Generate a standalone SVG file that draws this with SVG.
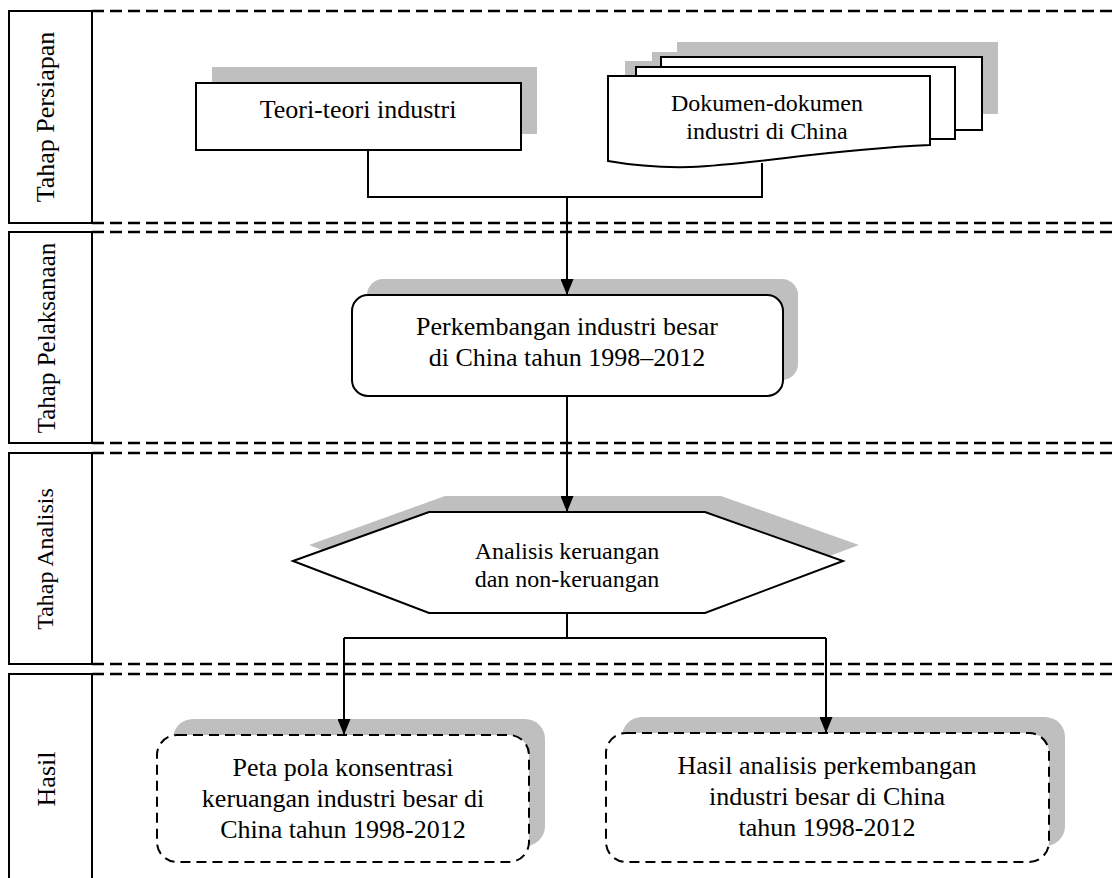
<svg xmlns="http://www.w3.org/2000/svg" width="1113" height="878" viewBox="0 0 1113 878">
<defs>
<style>
.lane{fill:#fff;stroke:#000;stroke-width:2}
.sep{stroke:#000;stroke-width:2.5;stroke-dasharray:12 6;fill:none}
.shadow{fill:#bfbfbf;stroke:none}
.box{fill:#fff;stroke:#000;stroke-width:2}
.dbox{fill:#fff;stroke:#000;stroke-width:2;stroke-dasharray:10 6}
.conn{fill:none;stroke:#000;stroke-width:2}
text{font-family:"Liberation Serif","Times New Roman",serif;fill:#000;text-anchor:middle}
.t26{font-size:26px}
.t24{font-size:24px}
.t25{font-size:25px}
</style>
<marker id="arr" viewBox="0 0 16 13" refX="16" refY="6.5" markerWidth="16" markerHeight="13" orient="auto" markerUnits="userSpaceOnUse">
<path d="M0,0 L16,6.5 L0,13 Z" fill="#000"/>
</marker>
</defs>
<rect width="1113" height="878" fill="#fff"/>

<g id="lanes">
<rect class="lane" x="9" y="11" width="83" height="212"/>
<rect class="lane" x="9" y="232" width="83" height="211"/>
<rect class="lane" x="9" y="453" width="83" height="211"/>
<rect class="lane" x="9" y="674" width="83" height="220"/>
<text class="t26" transform="translate(54,117) rotate(-90)">Tahap Persiapan</text>
<text class="t25" transform="translate(55,338) rotate(-90)">Tahap Pelaksanaan</text>
<text class="t24" transform="translate(53,559) rotate(-90)">Tahap Analisis</text>
<text class="t26" transform="translate(55,779) rotate(-90)">Hasil</text>
</g>

<g id="separators">
<line class="sep" x1="92" y1="11" x2="1113" y2="11"/>
<line class="sep" x1="92" y1="223" x2="1113" y2="223"/>
<line class="sep" x1="92" y1="232" x2="1113" y2="232"/>
<line class="sep" x1="92" y1="443" x2="1113" y2="443"/>
<line class="sep" x1="92" y1="453" x2="1113" y2="453"/>
<line class="sep" x1="92" y1="664" x2="1113" y2="664"/>
<line class="sep" x1="92" y1="674" x2="1113" y2="674"/>
</g>

<g id="shadows">
<rect class="shadow" x="212" y="67" width="325" height="67"/>
<rect class="shadow" x="677" y="42" width="321" height="72"/>
<rect class="shadow" x="652" y="52" width="319" height="72"/>
<path class="shadow" d="M625,61 H947 V130 C837,135 777,149 707,152 C667,153 642,149 625,146 Z"/>
<rect class="shadow" x="367" y="279" width="431" height="101" rx="16"/>
<polygon class="shadow" points="309,545 445,496 721,496 859,545 721,597 445,597"/>
<rect class="shadow" x="173" y="719" width="372" height="127" rx="20"/>
<rect class="shadow" x="622" y="717" width="443" height="129" rx="20"/>
</g>

<g id="connectors">
<path class="conn" d="M368,150 V197 H762 V163"/>
<path class="conn" d="M567,197 V295" marker-end="url(#arr)"/>
<path class="conn" d="M567,396 V512" marker-end="url(#arr)"/>
<path class="conn" d="M567,613 V638"/>
<path class="conn" d="M344,638 H826"/>
<path class="conn" d="M344,638 V735" marker-end="url(#arr)"/>
<path class="conn" d="M826,638 V733" marker-end="url(#arr)"/>
</g>

<g id="node-teori">
<rect class="box" x="196" y="83" width="325" height="67"/>
<text class="t26" x="358" y="118">Teori-teori industri</text>
</g>

<g id="node-dokumen">
<rect class="box" x="661" y="57" width="321" height="73"/>
<rect class="box" x="636" y="67" width="319" height="72"/>
<path class="box" d="M608,76 H930 V145 C820,150 760,164 690,167 C650,168 625,164 608,161 Z"/>
<text class="t24" x="767" y="111">Dokumen-dokumen</text>
<text class="t24" x="767" y="139">industri di China</text>
</g>

<g id="node-perkembangan">
<rect class="box" x="352" y="295" width="431" height="101" rx="16"/>
<text class="t26" x="567" y="335">Perkembangan industri besar</text>
<text class="t26" x="567" y="366">di China tahun 1998–2012</text>
</g>

<g id="node-analisis">
<polygon class="box" points="293,561 429,512 705,512 843,561 705,613 429,613"/>
<text class="t24" x="567" y="559">Analisis keruangan</text>
<text class="t24" x="567" y="587">dan non-keruangan</text>
</g>

<g id="node-peta">
<rect class="dbox" x="157" y="735" width="372" height="127" rx="20"/>
<text class="t26" x="343" y="776">Peta pola konsentrasi</text>
<text class="t26" x="343" y="807">keruangan industri besar di</text>
<text class="t26" x="343" y="838">China tahun 1998-2012</text>
</g>

<g id="node-hasil">
<rect class="dbox" x="606" y="733" width="443" height="129" rx="20"/>
<text class="t26" x="827" y="774">Hasil analisis perkembangan</text>
<text class="t26" x="827" y="805">industri besar di China</text>
<text class="t26" x="827" y="836">tahun 1998-2012</text>
</g>
</svg>
